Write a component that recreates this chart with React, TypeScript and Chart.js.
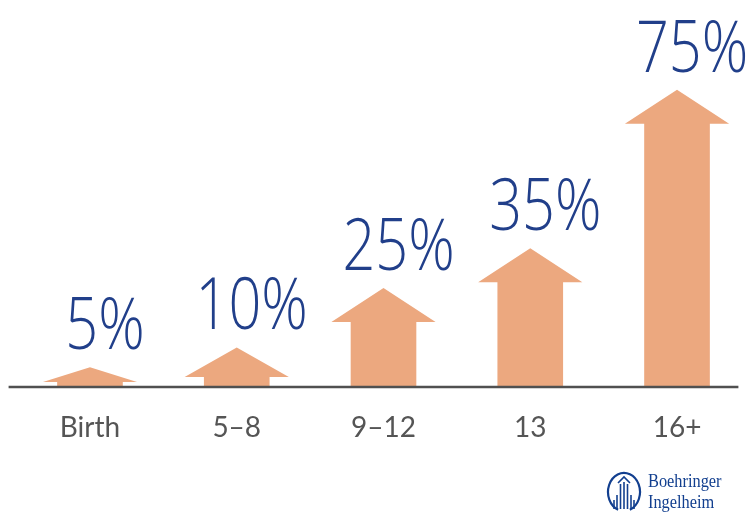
import React, { useEffect, useRef } from 'react';
import { Chart, registerables } from 'chart.js';

Chart.register(...registerables);

// ---- data ----
const categories: string[] = ['Birth', '5–8', '9–12', '13', '16+'];
const percentages: number[] = [5, 10, 25, 35, 75];
const logoLines: string[] = ['Boehringer', 'Ingelheim'];

// ---- styles ----
const ARROW_COLOR = '#eca87f';
const LABEL_BLUE = '#213f8a';
const AXIS_COLOR = '#505050';
const TICK_COLOR = '#555555';
const LOGO_BLUE = '#123f8f';

const arrowPlugin = {
  id: 'arrowBars',
  afterDatasetsDraw(chart: any) {
    const ctx: CanvasRenderingContext2D = chart.ctx;
    const meta = chart.getDatasetMeta(0);
    const values = chart.data.datasets[0].data as number[];
    const yScale = chart.scales.y;
    const base0 = yScale.getPixelForValue(0);

    meta.data.forEach((bar: any, i: number) => {
      const { x, y, base, width } = bar.getProps(['x', 'y', 'base', 'width'], true);
      const h = base - y;
      const fullHead = 34;
      const headH = Math.min(fullHead, h * 0.75);
      const shaftW = width * 0.63;
      const headW = shaftW + (width - shaftW) * Math.min(1, 0.3 + headH / fullHead);
      ctx.save();
      ctx.fillStyle = ARROW_COLOR;
      ctx.beginPath();
      ctx.moveTo(x - shaftW / 2, base);
      ctx.lineTo(x - shaftW / 2, y + headH);
      ctx.lineTo(x - headW / 2, y + headH);
      ctx.lineTo(x, y);
      ctx.lineTo(x + headW / 2, y + headH);
      ctx.lineTo(x + shaftW / 2, y + headH);
      ctx.lineTo(x + shaftW / 2, base);
      ctx.closePath();
      ctx.fill();
      ctx.restore();

      // value label
      ctx.save();
      ctx.translate(x + 15, y - 18);
      ctx.scale(0.8, 1);
      ctx.fillStyle = LABEL_BLUE;
      ctx.font = '300 72px "Open Sans"';
      ctx.textAlign = 'center';
      ctx.textBaseline = 'alphabetic';
      ctx.fillText(`${values[i]}%`, 0, 0);
      ctx.restore();
    });

    // baseline axis
    const area = chart.chartArea;
    ctx.save();
    ctx.strokeStyle = AXIS_COLOR;
    ctx.lineWidth = 2.5;
    ctx.beginPath();
    ctx.moveTo(area.left - 8, base0);
    ctx.lineTo(area.right - 12, base0);
    ctx.stroke();
    ctx.restore();
  },
  afterDraw(chart: any) {
    const ctx: CanvasRenderingContext2D = chart.ctx;
    const W = chart.width;
    const H = chart.height;
    // logo emblem
    const cx = W - 130;
    const cy = H - 23;
    ctx.save();
    ctx.strokeStyle = LOGO_BLUE;
    ctx.fillStyle = LOGO_BLUE;
    ctx.lineWidth = 2.2;
    ctx.beginPath();
    ctx.ellipse(cx, cy, 16, 19, 0, Math.PI * 0.62, Math.PI * 2.38);
    ctx.stroke();
    ctx.lineWidth = 1.6;
    const bars: [number, number][] = [
      [-10, 8], [-7, 3], [-3.5, -8], [0, -10], [3.5, -8], [7, 3], [10, 8],
    ];
    bars.forEach(([dx, top]) => {
      ctx.beginPath();
      ctx.moveTo(cx + dx, cy + top);
      ctx.lineTo(cx + dx, cy + 17);
      ctx.stroke();
    });
    ctx.beginPath();
    ctx.moveTo(cx - 6, cy - 9);
    ctx.lineTo(cx, cy - 15);
    ctx.lineTo(cx + 6, cy - 9);
    ctx.stroke();
    // logo text
    ctx.font = '19px "Liberation Serif"';
    ctx.textAlign = 'left';
    ctx.textBaseline = 'alphabetic';
    ctx.save();
    ctx.translate(W - 106, H - 28);
    ctx.scale(0.86, 1);
    ctx.fillText(logoLines[0], 0, 0);
    ctx.restore();
    ctx.save();
    ctx.translate(W - 106, H - 7);
    ctx.scale(0.86, 1);
    ctx.fillText(logoLines[1], 0, 0);
    ctx.restore();
    ctx.restore();
  },
};

export default function App() {
  const canvasRef = useRef<HTMLCanvasElement | null>(null);

  useEffect(() => {
    document.body.style.margin = '0';
    const canvas = canvasRef.current;
    if (!canvas) return;
    const chart = new Chart(canvas, {
      type: 'bar',
      data: {
        labels: categories,
        datasets: [
          {
            data: percentages,
            backgroundColor: 'rgba(0,0,0,0)',
            borderWidth: 0,
            categoryPercentage: 1,
            barPercentage: 0.71,
          },
        ],
      },
      options: {
        animation: false,
        responsive: true,
        maintainAspectRatio: false,
        layout: { padding: { left: 16.6, right: 3.6, top: 70, bottom: 70 } },
        plugins: {
          legend: { display: false },
          tooltip: { enabled: false },
          title: { display: false },
        },
        scales: {
          x: {
            grid: { display: false, drawTicks: false },
            border: { display: false },
            ticks: {
              color: TICK_COLOR,
              padding: 24,
              font: { family: 'Lato', size: 28 },
            },
            afterFit: (s: any) => {
              s.height = 58;
            },
          },
          y: {
            display: false,
            min: 0,
            max: 80,
          },
        },
      },
      plugins: [arrowPlugin],
    });
    return () => chart.destroy();
  }, []);

  return (
    <div style={{ position: 'relative', width: 754, height: 515, background: '#ffffff' }}>
      <canvas ref={canvasRef} />
    </div>
  );
}
